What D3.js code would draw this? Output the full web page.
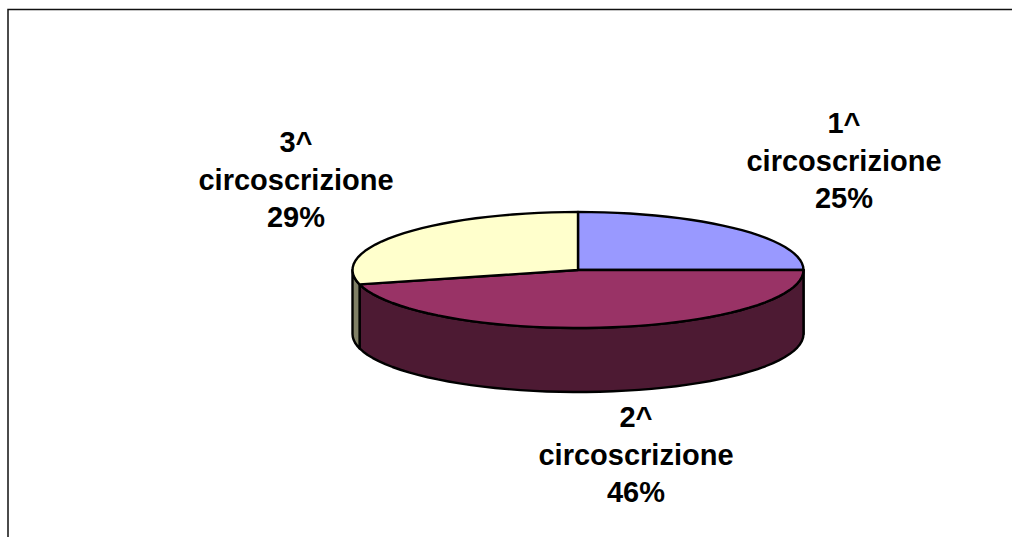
<!DOCTYPE html>
<html>
<head>
<meta charset="utf-8">
<script src="https://cdn.jsdelivr.net/npm/d3@7"></script>
<style>
html, body { margin: 0; padding: 0; background: #fff; }
svg { display: block; }
text { font-family: "Liberation Sans", Arial, sans-serif; font-weight: bold; font-size: 29px; fill: #000; text-anchor: middle; }
</style>
</head>
<body>
<script>
const categories = ["1^", "2^", "3^"]
const values = [25, 46, 29]
const sliceLabel = "circoscrizione"
const topColors = ["#9999ff", "#993366", "#ffffcc"]
const sideColors = ["#4d4d80", "#4d1a33", "#808066"]
// label anchor: centre x / first baseline
const labelPos = [[844, 133], [636, 427], [296, 152]]
const lineGap = 37.5

const width = 1012, height = 537
const cx = 578, cy = 270, rx = 225.5, ry = 58, depth = 64

const svg = d3.select("body").append("svg")
    .attr("width", width)
    .attr("height", height)

// chart frame, only top and left edges are in the shot
svg.append("path")
    .attr("d", "M8," + height + "V9.5H" + width)
    .attr("fill", "none")
    .attr("stroke", "#111")
    .attr("stroke-width", 1.5)

const pie = d3.pie().sort(null)
const arcs = pie(values)

const xOf = a => cx + rx * Math.sin(a)
const yOf = (a, dy = 0) => cy - ry * Math.cos(a) + dy
const line = d3.line()

const sample = (a0, a1) => {
    const n = Math.max(2, Math.ceil(Math.abs(a1 - a0) / 0.06))
    return d3.range(n + 1).map(i => a0 + (a1 - a0) * i / n)
}

// side wall, only the front half of the ellipse shows
arcs.forEach((d, i) => {
    const a0 = Math.max(d.startAngle, Math.PI / 2)
    const a1 = Math.min(d.endAngle, Math.PI * 1.5)
    if (a1 <= a0) return
    const angles = sample(a0, a1)
    const pts = angles.map(a => [xOf(a), yOf(a)])
        .concat(angles.slice().reverse().map(a => [xOf(a), yOf(a, depth)]))
    svg.append("path")
        .attr("d", line(pts) + "Z")
        .attr("fill", sideColors[i])
        .attr("stroke", "#000")
        .attr("stroke-width", 2.4)
        .attr("stroke-linejoin", "round")
})

// top face
arcs.forEach((d, i) => {
    const pts = [[cx, cy]].concat(sample(d.startAngle, d.endAngle).map(a => [xOf(a), yOf(a)]))
    svg.append("path")
        .attr("d", line(pts) + "Z")
        .attr("fill", topColors[i])
        .attr("stroke", "#000")
        .attr("stroke-width", 2.4)
        .attr("stroke-linejoin", "round")
})

categories.forEach((c, i) => {
    const t = svg.append("text")
    const rows = [c, sliceLabel, values[i] + "%"]
    rows.forEach((r, k) => {
        t.append("tspan")
            .attr("x", labelPos[i][0])
            .attr("y", labelPos[i][1] + k * lineGap)
            .text(r)
    })
})
</script>
</body>
</html>
